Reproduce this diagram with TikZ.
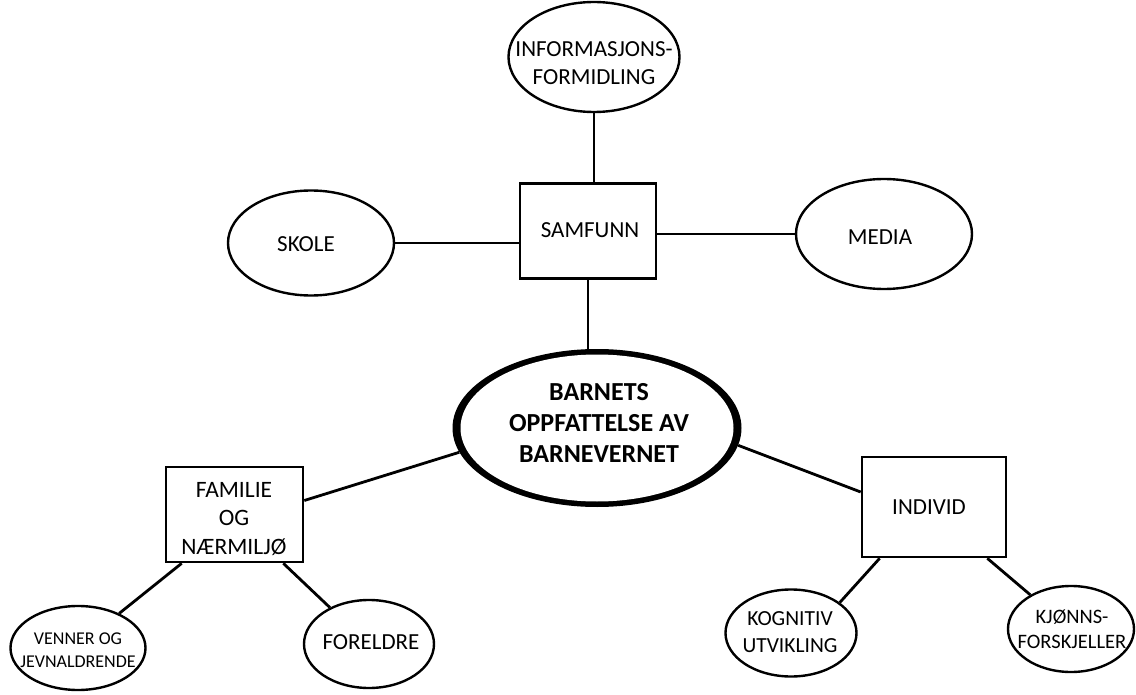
\documentclass[tikz,border=0pt]{standalone}
\usepackage{fontspec}
\setmainfont{Carlito}
\usetikzlibrary{shapes.geometric}
\tikzset{
  oval/.style={ellipse, draw=black, line width=2.4pt, fill=white, inner sep=0pt},
  boxnode/.style={rectangle, draw=black, line width=2.6pt, fill=white, inner sep=0pt},
  txt/.style={align=center, inner sep=0pt, font=\fontsize{23}{28.5}\selectfont},
  link/.style={line width=2.8pt, black}
}
\begin{document}
\begin{tikzpicture}[x=1pt,y=-1pt]
\fill[white] (0,0) rectangle (1136,695);
\useasboundingbox (0,0) rectangle (1136,695);
% nodes
\node[oval, minimum width=171pt, minimum height=110pt] (info) at (594,57) {};
\node[txt] (infot) at (594,63) {INFORMASJONS-\\FORMIDLING};
\node[boxnode, minimum width=136pt, minimum height=95pt] (samf) at (588,231) {};
\node[txt] (samft) at (590,230) {SAMFUNN};
\node[oval, minimum width=166pt, minimum height=105pt] (skole) at (311,243) {};
\node[txt] (skolet) at (306,244) {SKOLE};
\node[oval, minimum width=176pt, minimum height=110pt] (media) at (884,234) {};
\node[txt] (mediat) at (880,237) {MEDIA};
\node[ellipse, fill=black, inner sep=0pt, minimum width=289pt, minimum height=158pt] (center) at (597,428) {};
\node[ellipse, fill=white, inner sep=0pt, minimum width=273pt, minimum height=147pt] (centerin) at (597,428) {};
\node[txt, font=\fontsize{26}{31}\selectfont\bfseries] (centert) at (599,423) {BARNETS\\OPPFATTELSE AV\\BARNEVERNET};
\node[boxnode, minimum width=137pt, minimum height=95pt] (famil) at (234.5,514.5) {};
\node[txt, font=\fontsize{23.5}{28.5}\selectfont] (familt) at (234,519) {FAMILIE\\OG\\NÆRMILJØ};
\node[boxnode, minimum width=144pt, minimum height=100pt] (indiv) at (934,507) {};
\node[txt] (indivt) at (929,507) {INDIVID};
\node[oval, minimum width=135pt, minimum height=84pt] (venner) at (78,648) {};
\node[txt, font=\fontsize{18}{23}\selectfont] (vennert) at (78,650) {VENNER OG\\JEVNALDRENDE};
\node[oval, minimum width=130pt, minimum height=88pt] (foreldre) at (369,644) {};
\node[txt] (foreldret) at (371,642) {FORELDRE};
\node[oval, minimum width=131pt, minimum height=87pt] (kogn) at (791,633) {};
\node[txt, font=\fontsize{21.5}{26.5}\selectfont] (kognt) at (790,632) {KOGNITIV\\UTVIKLING};
\node[oval, minimum width=126pt, minimum height=86pt] (kjonn) at (1071,629) {};
\node[txt, font=\fontsize{20.5}{25.5}\selectfont] (kjonnt) at (1072,629) {KJØNNS-\\FORSKJELLER};
% connectors
\draw[link] (info.south) -- (info.south |- samf.north);
\draw[link] (skole.east) -- (skole.east -| samf.west);
\draw[link] (samf.east |- media.west) -- (media.west);
\draw[link] (samf.south) -- (samf.south |- center.north);
\draw[link] (center.190) -- ([yshift=14pt]famil.east);
\draw[link] (center.353) -- ([yshift=15pt]indiv.west);
\draw[link] ([xshift=17pt]famil.south west) -- (venner.40);
\draw[link] ([xshift=-21pt]famil.south east) -- (foreldre.137);
\draw[link] ([xshift=19pt]indiv.south west) -- (kogn.32);
\draw[link] ([xshift=-20pt]indiv.south east) -- (kjonn.140);
\end{tikzpicture}
\end{document}
